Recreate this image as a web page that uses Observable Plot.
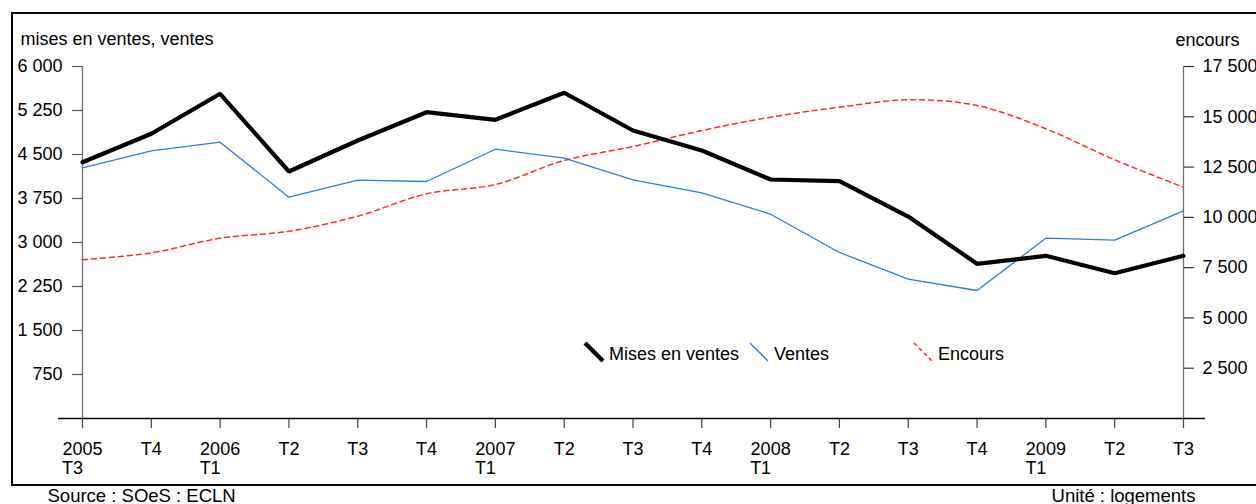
<!DOCTYPE html>
<html>
<head>
<meta charset="utf-8">
<script src="https://cdn.jsdelivr.net/npm/d3@7"></script>
<script src="https://cdn.jsdelivr.net/npm/@observablehq/plot@0.6"></script>
<style>
  html, body { margin: 0; padding: 0; background: #fff; }
  body { width: 1256px; height: 504px; position: relative; overflow: hidden; font-family: "Liberation Sans", Arial, sans-serif; }
  #frame { position: absolute; left: 11px; top: 12px; width: 1270px; height: 470px; border: 2px solid #000; box-sizing: content-box; pointer-events: none; }
  #chart { position: absolute; left: 0; top: 0; }
  #legend { position: absolute; left: 0; top: 0; pointer-events: none; }
</style>
</head>
<body>
<div id="frame"></div>
<div id="chart"></div>
<svg id="legend" width="1256" height="504"></svg>
<script>
// ---- Data ----
const quarterLabels = ["T3","T4","T1","T2","T3","T4","T1","T2","T3","T4","T1","T2","T3","T4","T1","T2","T3"];
const yearLabels    = ["2005","","2006","","","","2007","","","","2008","","","","2009","",""];
const misesEnVentes = [4369,4853,5535,4210,4739,5221,5091,5552,4909,4568,4074,4045,3443,2637,2773,2477,2773];
const ventes        = [4273,4563,4710,3772,4062,4040,4590,4437,4069,3847,3482,2830,2374,2182,3073,3039,3540];
const encours       = [7890,8238,8964,9312,10058,11171,11634,12827,13523,14318,14980,15477,15845,15561,14403,12861,11499];
const leftTicks  = [750,1500,2250,3000,3750,4500,5250,6000];
const rightTicks = [2500,5000,7500,10000,12500,15000,17500];
const seriesNames = ["Mises en ventes","Ventes","Encours"];
const leftTitle = "mises en ventes, ventes";
const rightTitle = "encours";
const sourceText = "Source : SOeS : ECLN";
const unitText = "Unité : logements";

// ---- Build ----
const leftMax = 6000, rightMax = 17500;
const ratio = leftMax / rightMax;
const fr = d3.formatLocale({decimal: ",", thousands: " ", grouping: [3], currency: ["", ""]}).format(",d");
const nb = "\u00a0\u00a0\u00a0\u00a0";
const xLabels = quarterLabels.map((q, i) => yearLabels[i] ? yearLabels[i] + "\n" + q + nb : q);
const rows = quarterLabels.map((q, i) => ({i, m: misesEnVentes[i], v: ventes[i], e: encours[i] * ratio}));

const BLACK = "#000000", BLUE = "#2a7fd8", RED = "#ff2a2a";

const chart = Plot.plot({
  width: 1256,
  height: 504,
  marginLeft: 82,
  marginRight: 73,
  marginTop: 66,
  marginBottom: 86,
  style: {fontFamily: '"Liberation Sans", Arial, sans-serif', fontSize: "18px", color: "#000", background: "transparent", overflow: "visible"},
  x: {domain: [0, quarterLabels.length - 1], label: null},
  y: {domain: [0, leftMax], label: null},
  marks: [
    Plot.ruleX([0], {stroke: "#707070", strokeWidth: 1.3}),
    Plot.ruleX([quarterLabels.length - 1], {stroke: "#707070", strokeWidth: 1.3}),
    Plot.axisX({ticks: d3.range(quarterLabels.length), tickFormat: i => xLabels[i], tickSize: 10, tickPadding: 12,
                fontSize: 18, lineHeight: 1.1, stroke: "#444", strokeWidth: 1.2, label: null}),
    Plot.axisY({anchor: "left", ticks: leftTicks, tickFormat: fr, tickSize: 10, tickPadding: 10,
                fontSize: 18, stroke: "#555", strokeWidth: 1.2, label: null}),
    Plot.axisY({anchor: "right", ticks: rightTicks.map(v => v * ratio), tickFormat: v => fr(Math.round(v / ratio)),
                tickSize: 10, tickPadding: 9, fontSize: 18, stroke: "#333", strokeWidth: 1.2, label: null}),
    Plot.ruleY([0], {stroke: "#000", strokeWidth: 1.3, insetLeft: -24, insetRight: -22}),
    Plot.line(rows, {x: "i", y: "e", stroke: RED, strokeWidth: 1.5, strokeDasharray: "5,4", curve: "catmull-rom"}),
    Plot.line(rows, {x: "i", y: "v", stroke: BLUE, strokeWidth: 1.3}),
    Plot.line(rows, {x: "i", y: "m", stroke: BLACK, strokeWidth: 4.2, strokeLinejoin: "miter"}),
    Plot.text([leftTitle], {frameAnchor: "top-left", textAnchor: "start", lineAnchor: "bottom", dx: -62, dy: -22, fontSize: 18}),
    Plot.text([rightTitle], {frameAnchor: "top-right", textAnchor: "start", lineAnchor: "bottom", dx: -8, dy: -21, fontSize: 18}),
    Plot.text([sourceText], {frameAnchor: "bottom-left", textAnchor: "start", lineAnchor: "bottom", dx: -35, dy: 83, fontSize: 18.5}),
    Plot.text([unitText], {frameAnchor: "bottom-right", textAnchor: "end", lineAnchor: "bottom", dx: 12, dy: 83, fontSize: 18.5})
  ]
});
document.getElementById("chart").appendChild(chart);

// ---- Legend (inside plot area) ----
const lg = d3.select("#legend");
const items = [
  {name: seriesNames[0], color: BLACK, w: 4.2, dash: null, x: 585},
  {name: seriesNames[1], color: BLUE, w: 1.3, dash: null, x: 750},
  {name: seriesNames[2], color: RED, w: 1.5, dash: "4,3", x: 914}
];
items.forEach(it => {
  const g = lg.append("g");
  g.append("line").attr("x1", it.x).attr("y1", 343).attr("x2", it.x + 18).attr("y2", 361)
    .attr("stroke", it.color).attr("stroke-width", it.w).attr("stroke-dasharray", it.dash);
  g.append("text").attr("x", it.x + 24).attr("y", 359.5).attr("font-size", 18)
    .attr("font-family", '"Liberation Sans", Arial, sans-serif').attr("fill", "#000").text(it.name);
});
</script>
</body>
</html>
